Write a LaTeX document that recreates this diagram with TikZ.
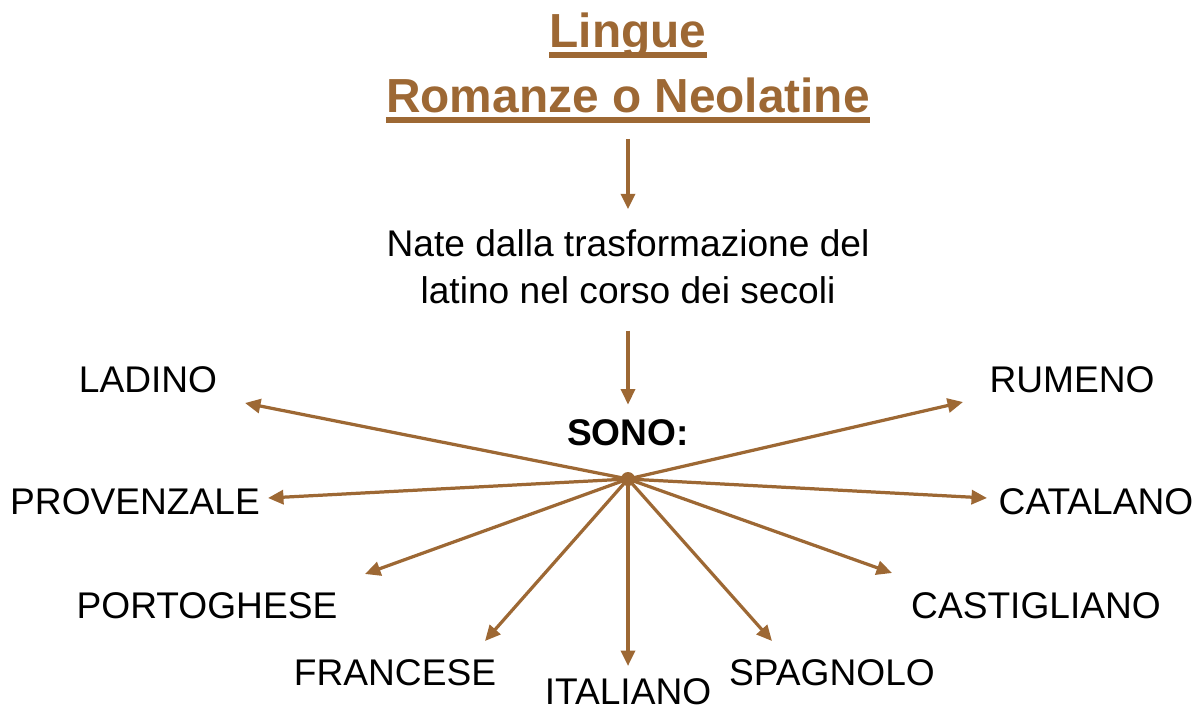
\documentclass[tikz,border=0pt]{standalone}
\usepackage{fontspec}
\setmainfont{Liberation Sans}
\usetikzlibrary{arrows.meta}
\definecolor{bronzo}{RGB}{157,104,52}

\begin{document}
\begin{tikzpicture}[x=0.025cm,y=-0.025cm]
        \useasboundingbox (0,0) rectangle (1204,713);
        \begin{scope}[every node/.style={inner sep=0pt,anchor=base,text=bronzo,
                    font=\fontsize{34}{40}\selectfont\bfseries}]
            \node (T1) at (628,47) {Lingue};
            \node (T2) at (628,112) {Romanze o Neolatine};
        \end{scope}

        \begin{scope}[every node/.style={inner sep=0pt,font=\fontsize{26.4}{31}\selectfont}]
            \node[anchor=base] (N1) at (628,256) {Nate dalla trasformazione del};
            \node[anchor=base] (N2) at (628,303) {latino nel corso dei secoli};
            \node[font=\fontsize{26.4}{31}\selectfont\bfseries] (sono) at (628,433) {SONO:};

            \node (ladino) at (148,380) {LADINO};
            \node (rumeno) at (1072,380) {RUMENO};
            \node (provenzale) at (135,502) {PROVENZALE};
            \node (catalano) at (1096,502) {CATALANO};
            \node (portoghese) at (207,606) {PORTOGHESE};
            \node (castigliano) at (1036,606) {CASTIGLIANO};
            \node (francese) at (395,673) {FRANCESE};
            \node (italiano) at (628,692) {ITALIANO};
            \node (spagnolo) at (832,673) {SPAGNOLO};
        \end{scope}

        \node[circle,fill=bronzo,inner sep=0pt,minimum size=0.35cm] (hub) at (628,479) {};

        \coordinate (ladinoT) at (245,403);
        \coordinate (rumenoT) at (963,402);
        \coordinate (provenzaleT) at (268,498);
        \coordinate (catalanoT) at (987,498);
        \coordinate (portogheseT) at (365,574);
        \coordinate (castiglianoT) at (892,573);
        \coordinate (franceseT) at (485,641);
        \coordinate (italianoT) at (628,666);
        \coordinate (spagnoloT) at (772,641);

        \draw[bronzo,line width=4pt] ([yshift=-0.2cm]T1.base west) -- ([yshift=-0.2cm]T1.base east);
        \draw[bronzo,line width=4pt] ([yshift=-0.2cm]T2.base west) -- ([yshift=-0.2cm]T2.base east);

        \begin{scope}[>={Triangle[length=11pt,width=10pt]},
                    every edge/.style={draw=bronzo,line width=2.3pt}]
            \path [->] ([yshift=-0.65cm]T2.south) edge ([yshift=0.49cm]N1.north);
            \path [->] ([yshift=-0.675cm]N2.south) edge ([yshift=0.375cm]sono.north);

            \path [->] (hub.center) edge (ladinoT);
            \path [->] (hub.center) edge (rumenoT);
            \path [->] (hub.center) edge (provenzaleT);
            \path [->] (hub.center) edge (catalanoT);
            \path [->] (hub.center) edge (portogheseT);
            \path [->] (hub.center) edge (castiglianoT);
            \path [->] (hub.center) edge (franceseT);
            \path [->] (hub.center) edge (italianoT);
            \path [->] (hub.center) edge (spagnoloT);
        \end{scope}
    \end{tikzpicture}
\end{document}
